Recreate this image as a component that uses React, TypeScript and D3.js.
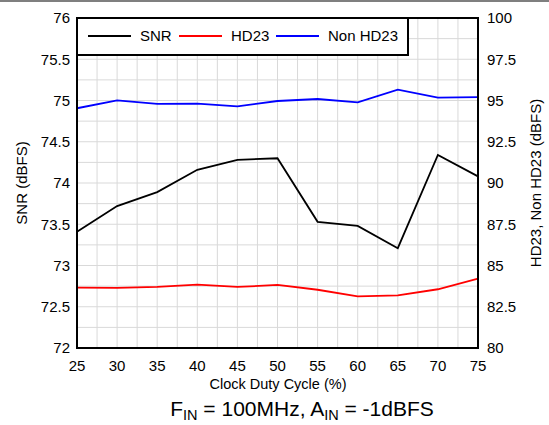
import React from "react";
import * as d3 from "d3";

const duty = [25, 30, 35, 40, 45, 50, 55, 60, 65, 70, 75];
const snr = [73.41, 73.72, 73.89, 74.16, 74.28, 74.3, 73.53, 73.48, 73.21, 74.34, 74.08];
const hd23 = [83.66, 83.64, 83.7, 83.84, 83.7, 83.82, 83.53, 83.13, 83.19, 83.56, 84.2];
const nonHd23 = [94.53, 95.01, 94.79, 94.81, 94.65, 94.97, 95.09, 94.89, 95.66, 95.17, 95.21];
const xTicks = [25, 30, 35, 40, 45, 50, 55, 60, 65, 70, 75];
const leftTicks = [72, 72.5, 73, 73.5, 74, 74.5, 75, 75.5, 76];
const rightTicks = [80, 82.5, 85, 87.5, 90, 92.5, 95, 97.5, 100];
const legendItems = [
  { label: "SNR", color: "#000000" },
  { label: "HD23", color: "#ff0000" },
  { label: "Non HD23", color: "#0000ff" },
];

const W = 549, H = 425;
const L = 77, R = 478, T = 18, B = 348;
const font = "Arial, 'Liberation Sans', sans-serif";

export default function App() {
  const x = d3.scaleLinear().domain([25, 75]).range([L, R]);
  const yL = d3.scaleLinear().domain([72, 76]).range([B, T]);
  const yR = d3.scaleLinear().domain([80, 100]).range([B, T]);
  const vGrid = d3.range(25, 75.01, 2.5);
  const hGrid = d3.range(72, 76.01, 0.25);
  const lineL = d3.line<number>().x((_, i) => x(duty[i])).y((d) => yL(d));
  const lineR = d3.line<number>().x((_, i) => x(duty[i])).y((d) => yR(d));
  const legendX = [88, 179, 276];
  return (
    <svg width={W} height={H} style={{ position: "absolute", left: 0, top: 0, background: "#fff" }} fontFamily={font}>
      <line x1={0} x2={W} y1={1} y2={1} stroke="#555" strokeWidth={1.5} />
      {vGrid.map((v) => (
        <line key={"v" + v} x1={x(v)} x2={x(v)} y1={T} y2={B} stroke="#d9d9d9" strokeWidth={1} />
      ))}
      {hGrid.map((v) => (
        <line key={"h" + v} x1={L} x2={R} y1={yL(v)} y2={yL(v)} stroke="#d9d9d9" strokeWidth={1} />
      ))}
      <path d={lineL(snr) || ""} fill="none" stroke="#000" strokeWidth={1.8} />
      <path d={lineR(hd23) || ""} fill="none" stroke="#ff0000" strokeWidth={1.8} />
      <path d={lineR(nonHd23) || ""} fill="none" stroke="#0000ff" strokeWidth={1.8} />
      <rect x={L} y={T} width={R - L} height={B - T} fill="none" stroke="#000" strokeWidth={2} />
      <rect x={L} y={T} width={408 - L} height={55 - T} fill="#fff" stroke="#000" strokeWidth={2} />
      {legendItems.map((it, i) => (
        <g key={it.label}>
          <line x1={legendX[i]} x2={legendX[i] + 43} y1={36} y2={36} stroke={it.color} strokeWidth={1.8} />
          <text x={legendX[i] + 52} y={36} dy="0.35em" fontSize={15}>{it.label}</text>
        </g>
      ))}
      {leftTicks.map((v) => (
        <text key={"l" + v} x={70} y={yL(v)} dy="0.35em" textAnchor="end" fontSize={15}>{v}</text>
      ))}
      {rightTicks.map((v) => (
        <text key={"r" + v} x={487} y={yR(v)} dy="0.35em" textAnchor="start" fontSize={15}>{v}</text>
      ))}
      {xTicks.map((v) => (
        <text key={"x" + v} x={x(v)} y={371} textAnchor="middle" fontSize={15}>{v}</text>
      ))}
      <text x={278} y={389} textAnchor="middle" fontSize={14.5}>Clock Duty Cycle (%)</text>
      <text transform={`translate(22,${(T + B) / 2}) rotate(-90)`} textAnchor="middle" dy="0.35em" fontSize={15}>SNR (dBFS)</text>
      <text transform={`translate(536,${(T + B) / 2}) rotate(-90)`} textAnchor="middle" dy="0.35em" fontSize={15}>HD23, Non HD23 (dBFS)</text>
      <text x={302} y={416} textAnchor="middle" fontSize={21}>
        F<tspan fontSize={14.5} dy={3.5}>IN</tspan>
        <tspan dy={-3.5}> = 100MHz, A</tspan>
        <tspan fontSize={14.5} dy={3.5}>IN</tspan>
        <tspan dy={-3.5}> = -1dBFS</tspan>
      </text>
    </svg>
  );
}
